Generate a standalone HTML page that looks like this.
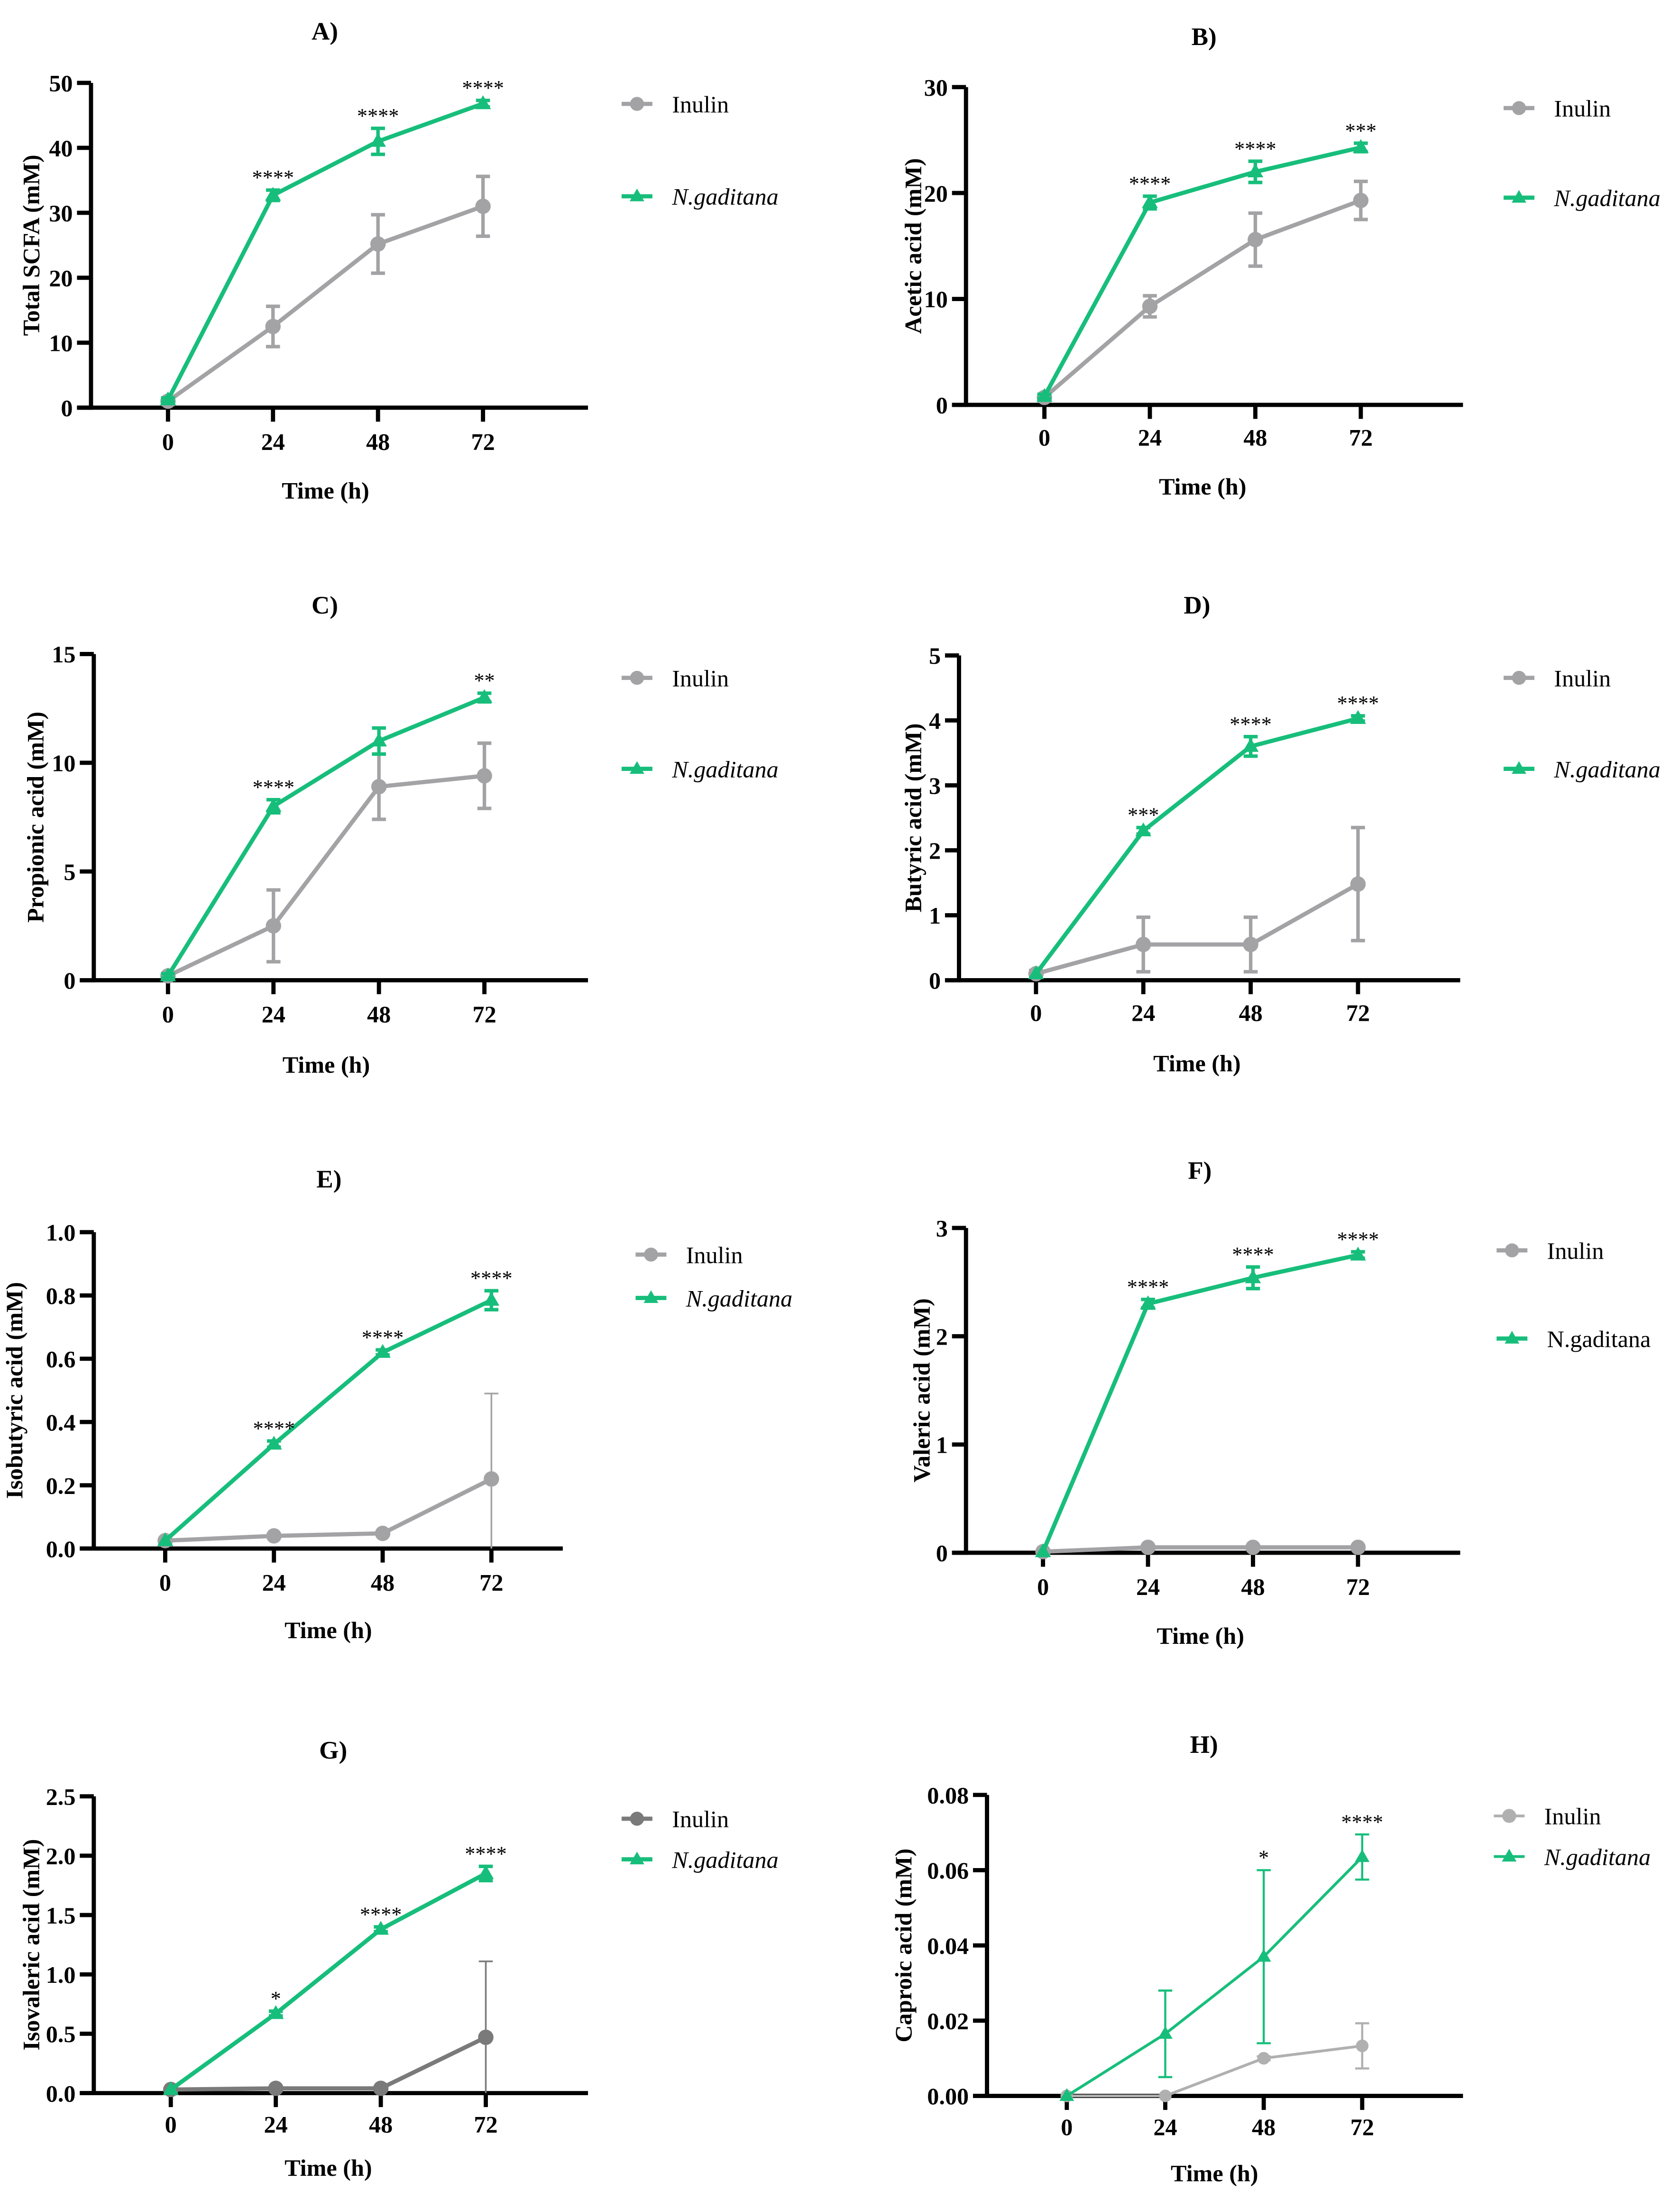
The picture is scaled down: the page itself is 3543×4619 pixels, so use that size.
<!DOCTYPE html>
<html><head><meta charset="utf-8">
<style>
html,body{margin:0;padding:0;background:#fff;}
svg{display:block;}
text{font-family:"Liberation Serif",serif;}
</style></head>
<body>
<svg id="chart" xmlns="http://www.w3.org/2000/svg" width="3543" height="4619" viewBox="0 0 1200 1564">
<rect width="1200" height="1564" fill="#fff"/>
</svg>
<script>
const timeCategories = [0, 24, 48, 72];
const panelLetters = ["A)", "B)", "C)", "D)", "E)", "F)", "G)", "H)"];
const yTitles = ["Total SCFA (mM)", "Acetic acid (mM)", "Propionic acid (mM)", "Butyric acid (mM)", "Isobutyric acid (mM)", "Valeric acid (mM)", "Isovaleric acid (mM)", "Caproic acid (mM)"];
const yTickLabels = [
  ["0","10","20","30","40","50"],
  ["0","10","20","30"],
  ["0","5","10","15"],
  ["0","1","2","3","4","5"],
  ["0.0","0.2","0.4","0.6","0.8","1.0"],
  ["0","1","2","3"],
  ["0.0","0.5","1.0","1.5","2.0","2.5"],
  ["0.00","0.02","0.04","0.06","0.08"]
];
const inulinValues = [
  [1, 12.5, 25.2, 31],
  [0.7, 9.3, 15.6, 19.3],
  [0.2, 2.5, 8.9, 9.4],
  [0.1, 0.55, 0.55, 1.48],
  [0.025, 0.04, 0.048, 0.22],
  [0.01, 0.05, 0.05, 0.05],
  [0.03, 0.04, 0.04, 0.47],
  [0, 0, 0.010, 0.0133]
];
const inulinErrors = [
  [0.5, 3.1, 4.5, 4.6],
  [0.3, 1, 2.5, 1.8],
  [0.1, 1.65, 1.5, 1.5],
  [0.05, 0.42, 0.42, 0.87],
  [0.005, 0.005, 0.005, 0.27],
  [0.005, 0.01, 0.01, 0.01],
  [0.005, 0.005, 0.005, 0.64],
  [0, 0, 0.0005, 0.006]
];
const gaditanaValues = [
  [1.2, 32.7, 41, 46.8],
  [0.8, 19.1, 22, 24.3],
  [0.2, 8, 11, 13],
  [0.1, 2.3, 3.6, 4.03],
  [0.025, 0.33, 0.62, 0.785],
  [0.01, 2.3, 2.54, 2.75],
  [0.03, 0.67, 1.38, 1.85],
  [0, 0.0165, 0.037, 0.0635]
];
const gaditanaErrors = [
  [0.3, 0.8, 2, 0.5],
  [0.2, 0.6, 1, 0.4],
  [0.1, 0.3, 0.6, 0.2],
  [0.02, 0.05, 0.15, 0.04],
  [0.003, 0.01, 0.008, 0.03],
  [0.01, 0.04, 0.1, 0.03],
  [0.01, 0.02, 0.02, 0.06],
  [0, 0.0115, 0.023, 0.006]
];
const significance = [
  ["", "****", "****", "****"],
  ["", "****", "****", "***"],
  ["", "****", "", "**"],
  ["", "***", "****", "****"],
  ["", "****", "****", "****"],
  ["", "****", "****", "****"],
  ["", "*", "****", "****"],
  ["", "", "*", "****"]
];

const layouts = [
  {ax:65, yTx:22, y0:291, y1:59, x0:120, x72:345, xEnd:420, tickY:315, timeY:350, titleX:232, titleY:22, legX:455, legY:[74,140], yMax:50, italic:true},
  {ax:690, yTx:652, y0:289, y1:62, x0:746, x72:972, xEnd:1045, tickY:312, timeY:347, titleX:860, titleY:26, legX:1085, legY:[77,141], yMax:30, italic:true},
  {ax:67, yTx:25, y0:700, y1:467, x0:120, x72:346, xEnd:420, tickY:724, timeY:760, titleX:232, titleY:432, legX:455, legY:[484,549], yMax:15, italic:true},
  {ax:685, yTx:652, y0:700, y1:468, x0:740, x72:970, xEnd:1043, tickY:723, timeY:759, titleX:855, titleY:432, legX:1085, legY:[484,549], yMax:5, italic:true},
  {ax:67, yTx:10, y0:1106, y1:880, x0:118, x72:351, xEnd:402, tickY:1130, timeY:1164, titleX:235, titleY:842, legX:465, legY:[896,927], yMax:1.0, italic:true},
  {ax:690, yTx:658, y0:1109, y1:877, x0:745, x72:970, xEnd:1043, tickY:1133, timeY:1168, titleX:857, titleY:836, legX:1080, legY:[893,956], yMax:3, italic:false},
  {ax:67, yTx:22, y0:1495, y1:1283, x0:122, x72:347, xEnd:420, tickY:1517, timeY:1548, titleX:238, titleY:1250, legX:455, legY:[1299,1328], yMax:2.5, italic:true, inulinColor:"#7a7a7a"},
  {ax:705, yTx:645, y0:1497, y1:1282, x0:762, x72:973, xEnd:1045, tickY:1519, timeY:1552, titleX:860, titleY:1246, legX:1078, legY:[1297,1326], yMax:0.08, italic:true, thin:true, inulinColor:"#b0b0b0"}
];

const NS = "http://www.w3.org/2000/svg";
const svg = document.getElementById("chart");
const GREEN = "#17be7b", GRAY = "#a3a3a6";
function mk(tag, attrs, parent) {
  const e = document.createElementNS(NS, tag);
  for (const k in attrs) e.setAttribute(k, attrs[k]);
  parent.appendChild(e);
  return e;
}
function tri(x, y, r) {
  return `${x},${y - r} ${x - r * 0.95},${y + r * 0.65} ${x + r * 0.95},${y + r * 0.65}`;
}

layouts.forEach((L, p) => {
  const g = mk("g", {}, svg);
  
  
  const xs = t => L.x0 + (t / 72) * (L.x72 - L.x0);
  const ys = v => L.y0 - (v / L.yMax) * (L.y0 - L.y1);
  const lw = L.thin ? 2 : 3;
  const inColor = L.inulinColor || GRAY;

  const title = mk("text", {x: L.titleX, y: L.titleY + 6, "text-anchor": "middle", "font-size": 18, "font-weight": "bold"}, g);
  title.textContent = panelLetters[p];
  
  

  const yAxis = mk("line", {x1: L.ax, y1: L.y1, x2: L.ax, y2: L.y0 + 1.5, stroke: "#000", "stroke-width": 3}, g);
  
  
  const xAxis = mk("line", {x1: L.ax - 10, y1: L.y0, x2: L.xEnd, y2: L.y0, stroke: "#000", "stroke-width": 3}, g);
  
  

  const labs = yTickLabels[p];
  labs.forEach((lab, i) => {
    const v = L.yMax * i / (labs.length - 1);
    const y = ys(v);
    mk("line", {x1: L.ax - 10, y1: y, x2: L.ax, y2: y, stroke: "#000", "stroke-width": 3}, g);
    const t = mk("text", {x: L.ax - 13, y: y + 6, "text-anchor": "end", "font-size": 17, "font-weight": "bold"}, g);
    t.textContent = lab;
    
    
  });
  timeCategories.forEach(tc => {
    const x = xs(tc);
    mk("line", {x1: x, y1: L.y0, x2: x, y2: L.y0 + 10, stroke: "#000", "stroke-width": 3}, g);
    const t = mk("text", {x: x, y: L.tickY + 6, "text-anchor": "middle", "font-size": 17, "font-weight": "bold"}, g);
    t.textContent = String(tc);
    
    
  });
  const xt = mk("text", {x: (L.x0 + L.x72) / 2, y: L.timeY + 6, "text-anchor": "middle", "font-size": 17, "font-weight": "bold"}, g);
  xt.textContent = "Time (h)";
  
  
  const yc = (L.y0 + L.y1) / 2;
  const yt = mk("text", {x: 0, y: 0, transform: `translate(${L.yTx + 6},${yc}) rotate(-90)`, "text-anchor": "middle", "font-size": 17, "font-weight": "bold"}, g);
  yt.textContent = yTitles[p];
  
  

  function series(vals, errs, color, marker, name) {
    const sg = mk("g", {}, g);
    
    
    const pts = vals.map((v, i) => xs(timeCategories[i]) + "," + ys(v)).join(" ");
    mk("polyline", {points: pts, fill: "none", stroke: color, "stroke-width": lw}, sg);
    vals.forEach((v, i) => {
      const x = xs(timeCategories[i]);
      const e = errs[i];
      const big = (p === 4 || p === 6) && name === "inulin" && i === 3;
      const top = ys(v + e), bot = big ? L.y0 : ys(v - e);
      const ew = big ? 1.2 : (L.thin ? 1.5 : 2.5);
      if (Math.abs(bot - top) > 2) {
        mk("line", {x1: x, y1: top, x2: x, y2: bot, stroke: color, "stroke-width": ew}, sg);
        mk("line", {x1: x - 5, y1: top, x2: x + 5, y2: top, stroke: color, "stroke-width": ew}, sg);
        if (!big) mk("line", {x1: x - 5, y1: bot, x2: x + 5, y2: bot, stroke: color, "stroke-width": ew}, sg);
      }
      let m;
      if (marker === "circle") m = mk("circle", {cx: x, cy: ys(v), r: L.thin ? 4.5 : 5.5, fill: color}, sg);
      else m = mk("polygon", {points: tri(x, ys(v), L.thin ? 5.5 : 6), fill: color}, sg);
      
      
    });
  }
  series(inulinValues[p], inulinErrors[p], inColor, "circle", "inulin");
  series(gaditanaValues[p], gaditanaErrors[p], GREEN, "tri", "n-gaditana");

  significance[p].forEach((s, i) => {
    if (!s) return;
    const v = gaditanaValues[p][i] + gaditanaErrors[p][i];
    const t = mk("text", {x: xs(timeCategories[i]), y: ys(v) - 4, "text-anchor": "middle", "font-size": 15}, g);
    t.textContent = s;
    
    
  });

  const items = [["Inulin", inColor, "circle", false], ["N.gaditana", GREEN, "tri", L.italic]];
  items.forEach((it, k) => {
    const lg = mk("g", {}, g);
    
    
    const y = L.legY[k];
    mk("line", {x1: L.legX - 11, y1: y, x2: L.legX + 11, y2: y, stroke: it[1], "stroke-width": lw}, lg);
    if (it[2] === "circle") mk("circle", {cx: L.legX, cy: y, r: 5, fill: it[1]}, lg);
    else mk("polygon", {points: tri(L.legX, y, 5.5), fill: it[1]}, lg);
    const t = mk("text", {x: L.legX + 25, y: y + 6, "font-size": 17, "font-style": it[3] ? "italic" : "normal"}, lg);
    t.textContent = it[0];
  });
});
</script>
</body></html>
